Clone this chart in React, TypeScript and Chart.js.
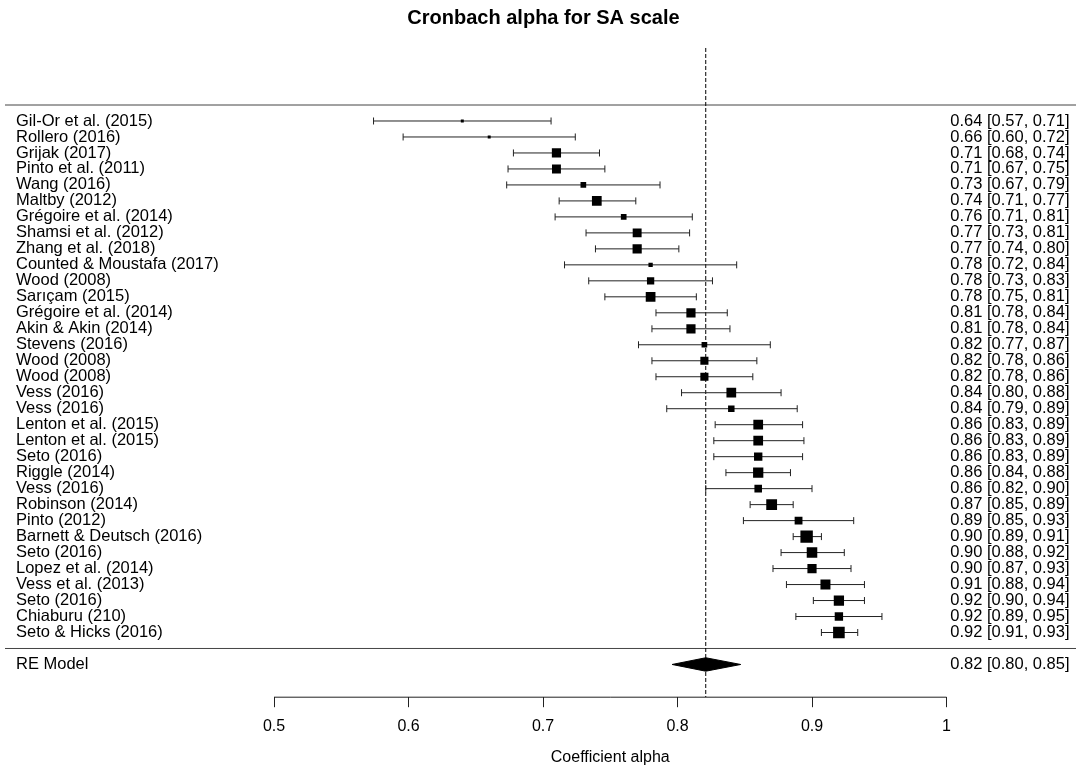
import React, { useEffect, useRef } from "react";
import { Chart, registerables } from "chart.js";

Chart.register(...registerables);

// ---- data ----
const studies: string[] = [
  "Gil-Or et al. (2015)",
  "Rollero (2016)",
  "Grijak (2017)",
  "Pinto et al. (2011)",
  "Wang (2016)",
  "Maltby (2012)",
  "Grégoire et al. (2014)",
  "Shamsi et al. (2012)",
  "Zhang et al. (2018)",
  "Counted & Moustafa (2017)",
  "Wood (2008)",
  "Sarıçam (2015)",
  "Grégoire et al. (2014)",
  "Akin & Akin (2014)",
  "Stevens (2016)",
  "Wood (2008)",
  "Wood (2008)",
  "Vess (2016)",
  "Vess (2016)",
  "Lenton et al. (2015)",
  "Lenton et al. (2015)",
  "Seto (2016)",
  "Riggle (2014)",
  "Vess (2016)",
  "Robinson (2014)",
  "Pinto (2012)",
  "Barnett & Deutsch (2016)",
  "Seto (2016)",
  "Lopez et al. (2014)",
  "Vess et al. (2013)",
  "Seto (2016)",
  "Chiaburu (210)",
  "Seto & Hicks (2016)",
];

const estimates: number[] = [
  0.640, 0.660, 0.710, 0.710, 0.730, 0.740, 0.760, 0.770, 0.770, 0.780, 0.780,
  0.780, 0.810, 0.810, 0.820, 0.820, 0.820, 0.840, 0.840, 0.860, 0.860, 0.860,
  0.860, 0.860, 0.870, 0.890, 0.896, 0.900, 0.900, 0.910, 0.920, 0.920, 0.920,
];

const lowerCI: number[] = [
  0.574, 0.596, 0.678, 0.674, 0.673, 0.712, 0.709, 0.732, 0.739, 0.716, 0.734,
  0.746, 0.784, 0.781, 0.771, 0.781, 0.784, 0.803, 0.792, 0.828, 0.827, 0.827,
  0.836, 0.821, 0.854, 0.849, 0.886, 0.877, 0.871, 0.881, 0.901, 0.888, 0.907,
];

const upperCI: number[] = [
  0.706, 0.724, 0.742, 0.746, 0.787, 0.769, 0.811, 0.809, 0.801, 0.844, 0.826,
  0.814, 0.837, 0.839, 0.869, 0.859, 0.856, 0.877, 0.889, 0.893, 0.894, 0.893,
  0.884, 0.900, 0.886, 0.931, 0.907, 0.924, 0.929, 0.939, 0.939, 0.952, 0.934,
];

// relative study weights (%), shown by the square size
const weights: number[] = [
  1.1, 1.1, 3.4, 3.3, 2.1, 3.6, 2.1, 3.3, 3.4, 1.6, 2.7, 3.6, 3.4, 3.4, 2.1,
  3.0, 3.0, 3.6, 2.4, 3.6, 3.6, 3.1, 3.8, 2.8, 4.0, 2.9, 4.6, 3.9, 3.4, 3.7,
  3.8, 3.1, 4.3,
];

const reLabel = "RE Model";
const reEstimate = 0.821;
const reLower = 0.796;
const reUpper = 0.847;

const xTicks: number[] = [0.5, 0.6, 0.7, 0.8, 0.9, 1.0];
const xTickLabels: string[] = ["0.5", "0.6", "0.7", "0.8", "0.9", "1"];

const titleText = "Cronbach alpha for SA scale";
const xTitle = "Coefficient alpha";

// ---- layout / style constants ----
const W = 1076;
const H = 770;
const FONT = '"Liberation Sans", Arial, Helvetica, sans-serif';
const X_MIN = 0.30446;
const X_MAX = 1.09628;
const X_LIM_LEFT = 0.3;
const X_LIM_RIGHT = 1.12;
const Y_MIN = -3.047;
const Y_MAX = 37.7535;
const REF_TOP = 37.566;
const DIAMOND_H = 0.42;
const PX_PER_WEIGHT = 2.7;
const LINE_COLOR = "#222";

const n = studies.length;
const rowY = (i: number) => n - i;
const fmt = (e: number, l: number, u: number) =>
  `${e.toFixed(2)} [${l.toFixed(2)}, ${u.toFixed(2)}]`;

const textPlugin = {
  id: "forestText",
  afterDraw(chart: any) {
    const ctx = chart.ctx;
    const ys = chart.scales.y;
    const xs = chart.scales.x;
    ctx.save();
    ctx.fillStyle = "#000";
    ctx.font = `16.5px ${FONT}`;
    ctx.textBaseline = "middle";
    for (let i = 0; i < n; i++) {
      const py = ys.getPixelForValue(rowY(i));
      ctx.textAlign = "left";
      ctx.fillText(studies[i], 16, py);
      ctx.textAlign = "right";
      ctx.fillText(fmt(estimates[i], lowerCI[i], upperCI[i]), 1069.5, py);
    }
    const pyRe = ys.getPixelForValue(-1);
    ctx.textAlign = "left";
    ctx.fillText(reLabel, 16, pyRe);
    ctx.textAlign = "right";
    ctx.fillText(fmt(reEstimate, reLower, reUpper), 1069.5, pyRe);

    // x-axis title, centred under the tick range
    const cx =
      (xs.getPixelForValue(xTicks[0]) +
        xs.getPixelForValue(xTicks[xTicks.length - 1])) /
      2;
    ctx.font = `16px ${FONT}`;
    ctx.textAlign = "center";
    ctx.fillText(xTitle, cx, 758);
    ctx.restore();
  },
};

export default function App() {
  const ref = useRef<HTMLCanvasElement | null>(null);

  useEffect(() => {
    if (!ref.current) return;

    const datasets: any[] = [];

    // study squares (drawn on top)
    datasets.push({
      data: estimates.map((e, i) => ({ x: e, y: rowY(i) })),
      pointStyle: "rect",
      pointRadius: weights.map((w) => (w * PX_PER_WEIGHT) / Math.SQRT2),
      backgroundColor: "#000",
      borderColor: "#000",
      pointBorderWidth: 0,
      showLine: false,
    });

    // summary diamond
    datasets.push({
      data: [
        { x: reLower, y: -1 },
        { x: reEstimate, y: -1 + DIAMOND_H },
        { x: reUpper, y: -1 },
        { x: reEstimate, y: -1 - DIAMOND_H },
        { x: reLower, y: -1 },
      ],
      showLine: true,
      fill: "shape",
      backgroundColor: "#000",
      borderColor: "#000",
      borderWidth: 1,
      pointRadius: 0,
      tension: 0,
    });

    // confidence intervals with end caps
    for (let i = 0; i < n; i++) {
      datasets.push({
        data: [
          { x: lowerCI[i], y: rowY(i) },
          { x: upperCI[i], y: rowY(i) },
        ],
        showLine: true,
        borderColor: LINE_COLOR,
        borderWidth: 1,
        pointStyle: "line",
        pointRotation: 90,
        pointRadius: 3.5,
        pointBorderColor: LINE_COLOR,
        pointBorderWidth: 1,
        pointBackgroundColor: LINE_COLOR,
      });
    }

    // reference (dashed) line at the summary estimate
    datasets.push({
      data: [
        { x: reEstimate, y: REF_TOP },
        { x: reEstimate, y: Y_MIN },
      ],
      showLine: true,
      borderColor: "#000",
      borderWidth: 1,
      borderDash: [4, 2],
      pointRadius: 0,
    });

    // horizontal separator lines
    for (const yy of [n + 1, 0]) {
      datasets.push({
        data: [
          { x: X_LIM_LEFT, y: yy },
          { x: X_LIM_RIGHT, y: yy },
        ],
        showLine: true,
        borderColor: "#444",
        borderWidth: 1,
        pointRadius: 0,
        clip: false,
      });
    }

    // x axis line (only over the tick range)
    datasets.push({
      data: [
        { x: xTicks[0], y: Y_MIN },
        { x: xTicks[xTicks.length - 1], y: Y_MIN },
      ],
      showLine: true,
      borderColor: LINE_COLOR,
      borderWidth: 1,
      pointRadius: 0,
      clip: false,
    });

    const chart = new Chart(ref.current, {
      type: "scatter",
      data: { datasets },
      options: {
        responsive: false,
        animation: false,
        events: [],
        layout: {
          autoPadding: false,
          padding: { left: 11, right: 0, top: 0, bottom: 23.6 },
        },
        plugins: {
          legend: { display: false },
          tooltip: { enabled: false },
          title: {
            display: true,
            text: titleText,
            color: "#000",
            font: { family: FONT, size: 20, weight: "bold" },
            padding: { top: 6.3, bottom: 14.7 },
          },
        },
        scales: {
          x: {
            type: "linear",
            min: X_MIN,
            max: X_MAX,
            afterBuildTicks: (scale: any) => {
              scale.ticks = xTicks.map((v) => ({ value: v }));
            },
            ticks: {
              callback: (_v: any, idx: number) => xTickLabels[idx],
              color: "#000",
              font: { family: FONT, size: 16 },
              padding: 10,
              autoSkip: false,
              maxRotation: 0,
            },
            grid: {
              drawOnChartArea: false,
              drawTicks: true,
              tickLength: 10,
              color: LINE_COLOR,
              lineWidth: 1,
            },
            border: { display: false },
            title: { display: false },
          },
          y: {
            type: "linear",
            display: false,
            min: Y_MIN,
            max: Y_MAX,
          },
        },
      } as any,
      plugins: [textPlugin],
    });

    return () => chart.destroy();
  }, []);

  return (
    <div
      style={{
        position: "absolute",
        left: 0,
        top: 0,
        width: W,
        height: H,
        background: "#fff",
      }}
    >
      <canvas ref={ref} width={W} height={H} />
    </div>
  );
}
